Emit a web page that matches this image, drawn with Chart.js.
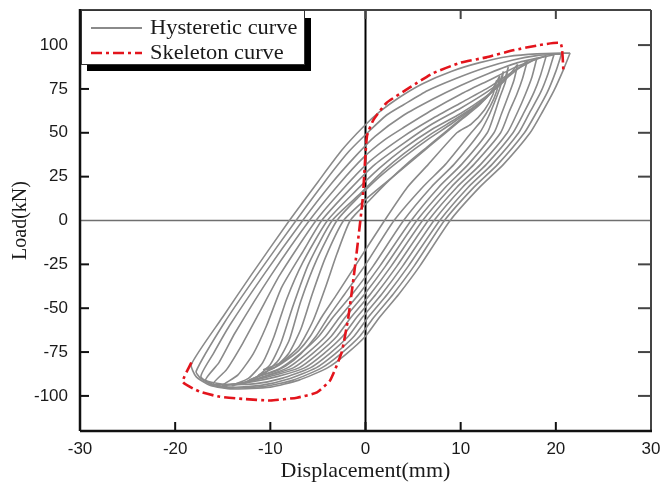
<!DOCTYPE html>
<html lang="en">
<head>
<meta charset="UTF-8">
<title>Hysteretic and skeleton curves</title>
<script src="https://cdn.jsdelivr.net/npm/chart.js"></script>
<style>
  html, body { margin: 0; padding: 0; background: #fff; }
</style>
</head>
<body>
<canvas id="chart" width="662" height="487"></canvas>
<script>
// axis ticks
const xTicks = [-30, -20, -10, 0, 10, 20, 30];
const yTicks = [-100, -75, -50, -25, 0, 25, 50, 75, 100];

// hysteretic loops: [displacement mm, load kN]
// each loop: positive peak -> unloading -> negative peak -> reloading -> back to peak
const cycleA = [[21.5,95.5],[20.8,86],[19.8,74],[18.6,62],[17.3,50],[14.5,32],[12,19],[8.9,0],[5.7,-26],[3.5,-42],[1.5,-55],[0,-66],[-2,-76],[-4,-84],[-7,-91],[-10,-95],[-14,-96],[-16.3,-94],[-17.8,-89],[-18.3,-82],
  [-15,-55],[-12,-31],[-8,0],[-5,22],[-2.5,40],[-0.3,53],[1.5,62],[3.5,70],[6,78],[9,85],[12,90],[15,93.5],[18,95],[21.5,95.5]];
const cycleB = [[20.6,95],[20,85],[19.1,73],[17.9,61],[16.7,50],[13.9,32],[11.4,19],[8.3,0],[5.1,-26],[2.9,-42],[0.9,-55],[-0.6,-66],[-2.6,-76],[-4.6,-84],[-7.6,-91],[-10.5,-94.5],[-14,-95.5],[-16,-94],[-17.3,-90],[-17.8,-86],
  [-14.8,-58],[-11.4,-31],[-7.3,0],[-4.3,22],[-1.8,39],[0.4,51],[2.2,60],[4,66],[6.5,74],[9.5,81],[12.5,87],[15.5,91.5],[18,94],[20.6,95]];
const cycleC = [[19.8,94.5],[19.2,84],[18.4,73],[17.3,62],[16.1,50],[13.3,32],[10.8,19],[7.8,0],[4.5,-26],[2.3,-42],[0.3,-55],[-1.2,-66],[-3.2,-76],[-5.2,-84],[-8.2,-90.5],[-11,-94],[-14,-95],[-16,-93.5],[-17.3,-89],
  [-16,-76],[-14.3,-60],[-10.7,-31],[-6.6,0],[-3.6,21],[-1,37],[1,48],[4,60],[7,69],[10,77],[13,84],[16,90],[19.8,94.5]];
const cycleD = [[19,94],[18.4,83],[17.7,73],[16.7,62],[15.5,50],[12.7,32],[10.2,19],[7.2,0],[3.9,-26],[1.7,-42],[-0.3,-55],[-1.8,-66],[-3.8,-76],[-5.8,-84],[-8.8,-90],[-11.5,-93],[-14.5,-93.5],[-16.8,-91],
  [-15.4,-81],[-13.7,-64],[-9.9,-31],[-5.9,0],[-2.9,20],[-0.2,36],[2,46],[4,53],[7,63],[10,72],[13,80],[16,88],[19,94]];
const cycleE = [[18,92.5],[17.5,82],[16.8,72],[16,62],[14.9,50],[12.1,32],[9.6,19],[6.6,0],[3.3,-26],[1.1,-42],[-0.9,-55],[-2.4,-66],[-4.4,-76],[-6.4,-84],[-9.3,-89],[-12,-92],[-14.5,-93.5],[-16,-93],
  [-14.6,-85],[-12.9,-70],[-11.1,-52],[-9,-31],[-5.2,0],[-2.2,19],[0.5,34],[4,48],[7,58],[10,67],[13,76],[15.5,85],[18,92.5]];
const cycleF = [[17,91],[16.5,81],[15.9,72],[15.1,62],[14.2,50],[11.4,32],[9,19],[6,0],[2.7,-26],[0.5,-42],[-1.5,-55],[-3,-66],[-5,-76],[-7,-84],[-9.8,-88.5],[-12.5,-92],[-15,-94],
  [-13.4,-88],[-11.8,-76],[-10.4,-60],[-8.8,-38],[-6.5,-17],[-4.6,0],[-1.6,18],[1,32],[4,44],[7,55],[10,64],[12.7,73],[15,82],[17,91]];
const cycleG = [[16,89],[15.6,80],[15,71],[14.3,61],[13.5,50],[10.8,32],[8.4,19],[5.4,0],[2.1,-26],[-0.1,-42],[-2.1,-55],[-3.6,-66],[-5.6,-76],[-7.6,-84],[-10.3,-88.5],[-12.3,-92],[-14,-94],
  [-12.3,-90],[-10.8,-81],[-9.6,-66],[-8.3,-45],[-6.6,-24],[-4,0],[-1,17],[1.5,30],[4,41],[7,52],[10,61],[12.5,70],[14.5,79],[16,89]];
const cycleH = [[15,87.5],[14.7,79],[14.1,70],[13.5,60],[12.8,50],[10.1,32],[7.7,19],[4.8,0],[1.5,-26],[-0.7,-42],[-2.7,-55],[-4.2,-66],[-6.2,-76],[-8.2,-84],[-10.7,-89],[-13,-93],
  [-11.4,-89],[-10,-82],[-8.9,-70],[-7.7,-50],[-6,-25],[-3.5,0],[-0.6,15],[1.8,28],[4,38],[6.8,49],[9.5,58],[12,67],[13.8,76],[14.7,82],[15,87.5]];
const cycleI = [[14.5,85],[14.2,77],[13.6,68],[12.9,59],[12,50],[9.3,32],[6.9,19],[4,0],[0.8,-26],[-1.4,-42],[-3.4,-55],[-4.9,-66],[-6.9,-76],[-8.9,-84],[-10.7,-88],[-12.2,-91],
  [-10.6,-87],[-9.2,-80],[-8,-68],[-6.8,-46],[-5.1,-22],[-3,0],[-0.8,13],[1.5,25],[4,36],[6.5,46],[9,55],[11.3,64],[13,72],[14,78],[14.5,85]];
const cycleJ = [[14.1,82.5],[13.8,74],[13.1,65],[12.2,57],[11.1,50],[8.4,32],[6,19],[3,0],[-0.1,-26],[-2.2,-42],[-3.9,-55],[-5.2,-66],[-6.8,-76],[-8.4,-83],[-10,-87],[-11.2,-88],
  [-9.6,-84],[-8.1,-76],[-6.8,-62],[-5.6,-42],[-4.2,-21],[-2.3,0],[-0.2,11],[2,21],[4,30],[6.2,40],[8.2,49],[10.2,58],[12,66],[13.3,74],[14.1,82.5]];
const cycleK = [[13.8,80],[13.4,72],[12.5,63],[11.1,55],[9.6,50],[6.6,32],[4.4,19],[2,0],[-1.1,-26],[-3,-42],[-4.6,-55],[-5.8,-66],[-7,-74],[-8.4,-80],[-9.6,-84],[-10.7,-85],
  [-8.9,-81],[-7,-72],[-5.5,-57],[-4.2,-38],[-3,-19],[-1.6,0],[0.5,12],[2.5,23],[4.5,33],[6.5,42],[8.5,51],[10.5,60],[12.3,68],[13.3,74],[13.8,80]];
const cycles = [cycleA, cycleB, cycleC, cycleD, cycleE, cycleF, cycleG, cycleH, cycleI, cycleJ, cycleK];

// skeleton (envelope) curve
const skeleton = [[-18.3,-81],[-19.2,-92],[-17.4,-97.6],[-15.3,-100.5],[-12.9,-101.7],[-10,-102.6],[-7.2,-101],[-5.1,-98],[-3.7,-91],[-2.5,-75],[-1.8,-55],[-1.1,-26],[-0.3,12],[0.15,48],[0.8,57],[2.2,67],[4.7,76],[7.1,84],[10,90],[12.7,93],[15.5,97],[18.3,100],[20.5,101],[20.8,85]];

const GRAY = '#8a8a8a';
const RED = '#e3141c';
const DASH = [11, 4, 3, 4];

const toPts = arr => arr.map(p => ({ x: p[0], y: p[1] }));

const datasets = [{
    label: 'Skeleton curve',
    data: toPts(skeleton),
    showLine: true,
    borderColor: RED,
    borderWidth: 2.6,
    borderDash: DASH,
    pointRadius: 0,
    tension: 0.15,
    order: 0
}];
cycles.forEach(c => {
    datasets.push({
        label: 'Hysteretic curve',
        data: toPts(c),
        showLine: true,
        borderColor: GRAY,
        borderWidth: 1.6,
        pointRadius: 0,
        tension: 0.2,
        order: 1
    });
});

function seg(ctx, x1, y1, x2, y2) {
    ctx.beginPath();
    ctx.moveTo(x1, y1);
    ctx.lineTo(x2, y2);
    ctx.stroke();
}

// text a little wider than the font, like the scanned original
function wideText(ctx, txt, x, y, sx) {
    ctx.save();
    ctx.translate(x, y);
    ctx.scale(sx, 1);
    ctx.fillText(txt, 0, 0);
    ctx.restore();
}

const decor = {
    id: 'decor',
    beforeDatasetsDraw(chart) {
        const { ctx, chartArea: a, scales: { x, y } } = chart;
        ctx.save();
        ctx.strokeStyle = '#6f6f6f';
        ctx.lineWidth = 1.5;
        const y0 = y.getPixelForValue(0);
        seg(ctx, a.left, y0, a.right, y0);
        ctx.strokeStyle = '#000';
        ctx.lineWidth = 2;
        const x0 = x.getPixelForValue(0);
        seg(ctx, x0, a.top, x0, a.bottom);
        ctx.restore();
    },
    afterDraw(chart) {
        const { ctx, chartArea: a, scales: { x, y } } = chart;
        ctx.save();
        // frame
        ctx.strokeStyle = '#444';
        ctx.lineWidth = 2;
        seg(ctx, a.left, a.top, a.right, a.top);
        seg(ctx, a.right, a.top, a.right, a.bottom);
        ctx.strokeStyle = '#111';
        ctx.lineWidth = 2.5;
        seg(ctx, a.left, a.top - 1, a.left, a.bottom);
        seg(ctx, a.left, a.bottom, a.right + 1, a.bottom);

        // inward tick marks
        ctx.lineWidth = 2;
        xTicks.slice(1, -1).forEach(v => {
            const px = x.getPixelForValue(v);
            ctx.strokeStyle = '#111';
            seg(ctx, px, a.bottom, px, a.bottom - 9);
            ctx.strokeStyle = '#444';
            seg(ctx, px, a.top, px, a.top + 9);
        });
        yTicks.forEach(v => {
            if (v === 0) return;
            const py = y.getPixelForValue(v);
            ctx.strokeStyle = '#111';
            seg(ctx, a.left, py, a.left + 9, py);
            ctx.strokeStyle = '#444';
            seg(ctx, a.right, py, a.right - 13, py);
        });

        // legend box with drop shadow
        const bx = a.left + 1, by = a.top, bw = 224, bh = 55;
        ctx.fillStyle = '#000';
        ctx.fillRect(bx + 6, by + 8, bw, bh - 2);
        ctx.fillStyle = '#fff';
        ctx.fillRect(bx, by, bw, bh);
        ctx.strokeStyle = '#333';
        ctx.lineWidth = 1;
        ctx.strokeRect(bx + 0.5, by + 0.5, bw - 1, bh - 1);

        ctx.lineWidth = 2;
        ctx.strokeStyle = GRAY;
        seg(ctx, bx + 10, by + 18, bx + 61, by + 18);
        ctx.lineWidth = 2.6;
        ctx.strokeStyle = RED;
        ctx.setLineDash(DASH);
        seg(ctx, bx + 10, by + 43, bx + 61, by + 43);
        ctx.setLineDash([]);

        ctx.fillStyle = '#1a1a1a';
        ctx.font = '20px "Liberation Serif", serif';
        ctx.textBaseline = 'alphabetic';
        wideText(ctx, 'Hysteretic curve', bx + 69, by + 24, 1.12);
        wideText(ctx, 'Skeleton curve', bx + 69, by + 49, 1.12);
        ctx.restore();
    }
};

new Chart(document.getElementById('chart'), {
    type: 'scatter',
    data: { datasets },
    options: {
        responsive: false,
        animation: false,
        layout: { padding: { top: 10, right: 11, left: 0, bottom: 0 } },
        plugins: { legend: { display: false }, tooltip: { enabled: false } },
        scales: {
            x: {
                type: 'linear',
                min: -30,
                max: 30,
                grid: { display: false, drawTicks: false },
                border: { display: false },
                ticks: {
                    stepSize: 10,
                    padding: 8,
                    color: '#1a1a1a',
                    font: { family: '"Liberation Sans", Arial, sans-serif', size: 17 }
                },
                title: {
                    display: true,
                    text: 'Displacement(mm)',
                    color: '#1a1a1a',
                    font: { family: '"Liberation Serif", serif', size: 22 },
                    padding: { top: 0, bottom: 3 }
                },
                afterFit: s => { s.height = 56; s.paddingLeft = 0; s.paddingRight = 0; }
            },
            y: {
                type: 'linear',
                min: -120,
                max: 120,
                grid: { display: false, drawTicks: false },
                border: { display: false },
                afterBuildTicks: s => { s.ticks = yTicks.map(v => ({ value: v })); },
                ticks: {
                    padding: 12,
                    color: '#1a1a1a',
                    font: { family: '"Liberation Sans", Arial, sans-serif', size: 17 }
                },
                title: {
                    display: true,
                    text: 'Load(kN)',
                    color: '#1a1a1a',
                    font: { family: '"Liberation Serif", serif', size: 20 },
                    padding: { top: 9, bottom: 0 }
                },
                afterFit: s => { s.width = 80; s.paddingTop = 0; s.paddingBottom = 0; }
            }
        }
    },
    plugins: [decor]
});
</script>
</body>
</html>
